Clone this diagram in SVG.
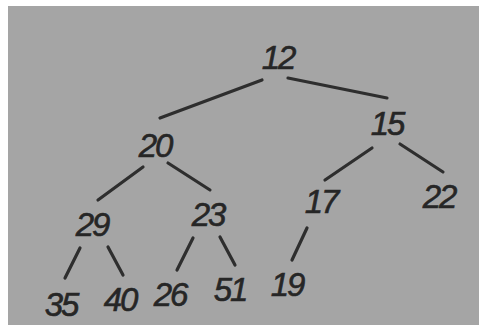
<svg xmlns="http://www.w3.org/2000/svg" width="479" height="325" viewBox="0 0 479 325">
<style>
.bg{fill:#a5a5a5}
.n text{font-family:"Liberation Sans",Arial,sans-serif;font-style:italic;font-size:33px;fill:#262626;stroke:#262626;stroke-width:0.6;text-anchor:middle;letter-spacing:-2px}
.e line{stroke:#2e2e2e;stroke-width:3.2;stroke-linecap:round}
</style>
<rect width="479" height="325" fill="#ffffff"/>
<rect class="bg" x="8" y="6" width="471" height="319"/>
<g class="e" id="connectors">
<line x1="262" y1="80" x2="160" y2="118"/>
<line x1="288" y1="78" x2="387" y2="98"/>
<line x1="143" y1="167" x2="98" y2="200"/>
<line x1="168" y1="163" x2="210" y2="190"/>
<line x1="372" y1="148" x2="325" y2="180"/>
<line x1="400" y1="144" x2="443" y2="172"/>
<line x1="80" y1="248" x2="65" y2="278"/>
<line x1="108" y1="247" x2="123" y2="275"/>
<line x1="193" y1="238" x2="177" y2="270"/>
<line x1="220" y1="237" x2="235" y2="265"/>
<line x1="307" y1="228" x2="292" y2="260"/>
</g>
<g class="n" id="n12"><text x="278" y="69">12</text></g>
<g class="n" id="n20"><text x="155" y="157">20</text></g>
<g class="n" id="n15"><text x="387" y="135">15</text></g>
<g class="n" id="n29"><text x="92" y="236">29</text></g>
<g class="n" id="n23"><text x="208" y="226">23</text></g>
<g class="n" id="n17"><text x="321" y="213">17</text></g>
<g class="n" id="n22"><text x="439" y="208">22</text></g>
<g class="n" id="n35"><text x="61" y="316">35</text></g>
<g class="n" id="n40"><text x="120" y="311">40</text></g>
<g class="n" id="n26"><text x="170" y="306">26</text></g>
<g class="n" id="n51"><text x="230" y="301">51</text></g>
<g class="n" id="n19"><text x="287" y="296">19</text></g>
</svg>
